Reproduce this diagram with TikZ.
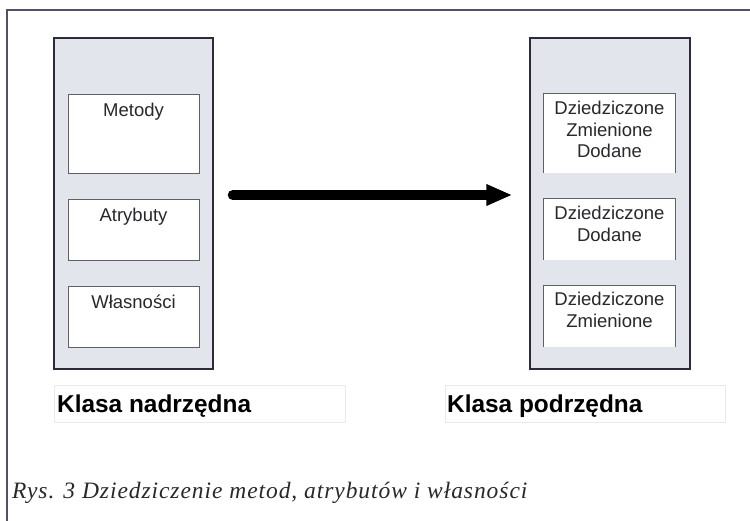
\documentclass[tikz,border=0pt]{standalone}
\usepackage{fontspec}
\setmainfont{Liberation Sans}
\newfontfamily\captionserif{Liberation Serif}
\usetikzlibrary{arrows.meta}
\definecolor{framecol}{RGB}{85,80,105}
\definecolor{panelfill}{RGB}{226,230,236}
\definecolor{paneledge}{RGB}{45,42,58}
\definecolor{boxedge}{RGB}{95,95,100}
\definecolor{inktext}{RGB}{40,40,45}
\definecolor{labeledge}{RGB}{234,234,238}
\tikzset{
  panel/.style={draw=paneledge, line width=1.5pt, fill=panelfill, rectangle,
    minimum width=#1, minimum height=331pt, inner sep=0pt},
  slot/.style={draw=boxedge, line width=0.8pt, fill=white, rectangle,
    minimum width=131pt, minimum height=#1, inner sep=0pt},
  openslot/.style={fill=white, rectangle, minimum width=131pt,
    minimum height=#1, inner sep=0pt},
  slottext/.style={anchor=north, inner sep=0pt, align=center, text=inktext,
    font=\fontsize{18.5}{21.5}\selectfont},
  classlabel/.style={draw=labeledge, line width=0.8pt, rectangle, anchor=north west,
    inner sep=0pt},
  classname/.style={anchor=base west, inner sep=0pt, text=black,
    font=\fontsize{24.4}{27}\selectfont\bfseries},
  inherit/.style={line width=10pt, line cap=round, draw=black,
    -{Triangle[length=26pt, width=20pt]}},
}
% draws the left, top and right sides of an open slot
\newcommand{\slotsides}[1]{%
  \draw[boxedge, line width=0.8pt] (#1.south west) -- (#1.north west)
    -- (#1.north east) -- (#1.south east);}
\begin{document}
\begin{tikzpicture}[x=1pt, y=-1pt]
  \useasboundingbox (0,0) rectangle (750,521);
  % figure frame (top and left edges)
  \coordinate (frameTL) at (7,10);
  \coordinate (frameTR) at (750,10);
  \coordinate (frameBL) at (7,521);
  \draw[framecol, line width=1.4pt] (frameTR) -- (frameTL) -- (frameBL);

  % base class
  \node[panel=159pt] (base) at (133.5,203.5) {};
  \node[slot=79pt] (bm) at (133.5,133.5) {};
  \node[slot=61pt] (ba) at (133.5,229.5) {};
  \node[slot=61pt] (bw) at (133.5,316.5) {};
  \node[slottext] (bmt) at (133.5,102.5) {Metody};
  \node[slottext] (bat) at (133.5,207.5) {Atrybuty};
  \node[slottext] (bwt) at (133.5,294.5) {Własności};

  % derived class
  \node[panel=160pt] (derived) at (610,203.5) {};
  \node[openslot=79pt] (dm) at (609.5,133.5) {};
  \node[openslot=61pt] (da) at (609.5,229.5) {};
  \node[openslot=61pt] (dw) at (609.5,316.5) {};
  \slotsides{dm}
  \slotsides{da}
  \slotsides{dw}
  \node[slottext] (dmt) at (609.5,101) {Dziedziczone\\Zmienione\\Dodane};
  \node[slottext] (dat) at (609.5,206) {Dziedziczone\\Dodane};
  \node[slottext] (dwt) at (609.5,292) {Dziedziczone\\Zmienione};

  % inheritance arrow
  \draw[inherit, shorten <=19pt, shorten >=17pt] (base.east |- 0,195) -- (derived.west |- 0,195);

  % class names
  \node[classlabel, minimum width=291pt, minimum height=37pt] (baselbl) at (54,385) {};
  \node[classname] (basename) at (57,413) {Klasa nadrzędna};
  \node[classlabel, minimum width=280pt, minimum height=37pt] (derivedlbl) at (445,385) {};
  \node[classname] (derivedname) at (447,413) {Klasa podrzędna};

  % caption
  \node[anchor=base west, inner sep=0pt, text=inktext,
    font=\captionserif\itshape\fontsize{23.5}{26}\selectfont\addfontfeature{LetterSpace=4}]
    (caption) at (12,498) {Rys. 3 Dziedziczenie metod, atrybutów i własności};
\end{tikzpicture}
\end{document}
